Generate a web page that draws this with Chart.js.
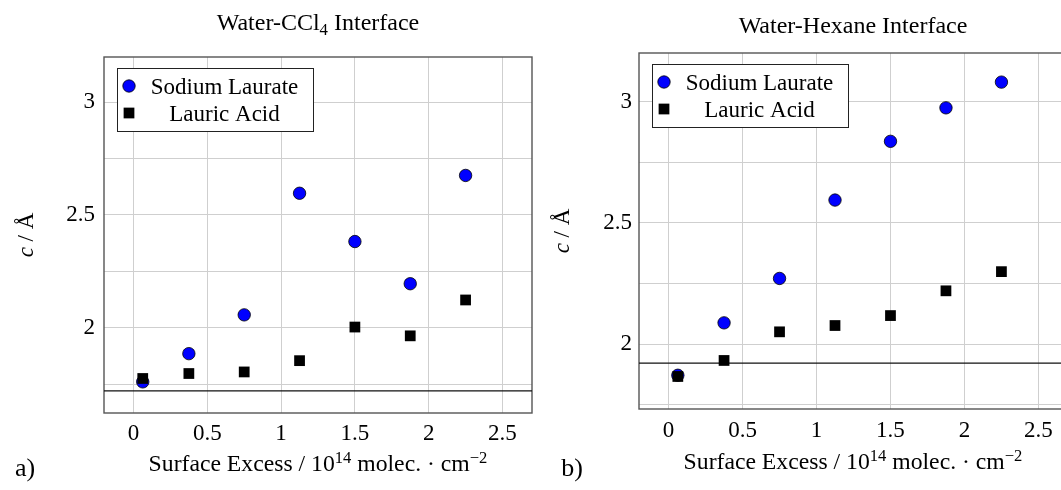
<!DOCTYPE html>
<html>
<head>
<meta charset="utf-8">
<script src="https://cdn.jsdelivr.net/npm/chart.js@4.4.1/dist/chart.umd.min.js"></script>
<style>
  body { margin: 0; width: 1061px; height: 490px; overflow: hidden; background: #fff; position: relative;
         font-family: "Liberation Serif", "Times New Roman", serif; color: #000; }
  canvas { position: absolute; top: 0; }
  #left { left: 0; }
  #right { left: 540px; }
  .lbl { position: absolute; white-space: nowrap; transform: translate(-50%, -50%); font-size: 23px; line-height: 1; }
  .ttl { font-size: 24px; }
  .xt { font-size: 23.7px; }
  .rot { transform: translate(-50%, -50%) rotate(-90deg); }
  .sub { font-size: 0.7em; vertical-align: -0.3em; }
  .sup { font-size: 0.7em; vertical-align: 0.5em; }
  .tag { font-size: 26px; }
</style>
</head>
<body>
<canvas id="left" width="540" height="490"></canvas>
<canvas id="right" width="560" height="490"></canvas>

<div class="lbl ttl" style="left:318px;top:24px">Water-CCl<span class="sub">4</span> Interface</div>
<div class="lbl ttl" style="left:853px;top:25px">Water-Hexane Interface</div>
<div class="lbl xt" style="left:318px;top:463px">Surface Excess / 10<span class="sup">14</span> molec. &middot; cm<span class="sup">&minus;2</span></div>
<div class="lbl xt" style="left:853px;top:461px">Surface Excess / 10<span class="sup">14</span> molec. &middot; cm<span class="sup">&minus;2</span></div>
<div class="lbl rot" style="left:25px;top:235px"><i>c</i> / &Aring;</div>
<div class="lbl rot" style="left:561px;top:231px"><i>c</i> / &Aring;</div>
<div class="lbl tag" style="left:25px;top:468px">a)</div>
<div class="lbl tag" style="left:572px;top:468px">b)</div>

<script>
// surface excess (10^14 molec/cm^2) and c spacing (Angstrom)
const surfaceExcess = [0.0625, 0.375, 0.75, 1.125, 1.5, 1.875, 2.25];
const ccl4Laurate = [1.760, 1.885, 2.057, 2.596, 2.382, 2.195, 2.675];
const ccl4Acid    = [1.775, 1.797, 1.804, 1.854, 2.003, 1.964, 2.123];
const hexLaurate  = [1.872, 2.088, 2.271, 2.594, 2.836, 2.974, 3.080];
const hexAcid     = [1.867, 1.933, 2.051, 2.077, 2.118, 2.220, 2.299];
const ccl4Ref = 1.72;
const hexRef = 1.922;

const xTicks = [0, 0.5, 1, 1.5, 2, 2.5];
const xTickLabels = ['0', '0.5', '1', '1.5', '2', '2.5'];
const yTicks = [1.75, 2, 2.25, 2.5, 2.75, 3];
const yTickLabels = ['', '2', '', '2.5', '', '3'];

const xMin = -0.2, xMax = 2.7, yMax = 3.2;
const FONT = '"Liberation Serif", "Times New Roman", serif';

const framePlugin = {
  id: 'frame',
  beforeDatasetsDraw(chart) {
    const { ctx, chartArea: a } = chart;
    ctx.save();
    ctx.strokeStyle = '#555';
    ctx.lineWidth = 1.4;
    ctx.strokeRect(a.left, a.top, a.right - a.left, a.bottom - a.top);
    ctx.restore();
  }
};

const boxLegend = {
  id: 'boxLegend',
  afterDatasetsDraw(chart) {
    const { ctx, chartArea: a } = chart;
    const x0 = Math.round(a.left + 13), y0 = Math.round(a.top + 11), w = 196, h = 63;
    ctx.save();
    ctx.fillStyle = '#fff';
    ctx.fillRect(x0, y0, w, h);
    ctx.strokeStyle = '#222';
    ctx.lineWidth = 1;
    ctx.strokeRect(x0 + 0.5, y0 + 0.5, w, h);
    ctx.font = '23px ' + FONT;
    ctx.textAlign = 'center';
    ctx.textBaseline = 'alphabetic';
    chart.data.datasets.slice(0, 2).forEach((ds, i) => {
      const cx = x0 + 12, cy = y0 + 18 + i * 27;
      ctx.fillStyle = ds.backgroundColor;
      ctx.strokeStyle = ds.borderColor;
      ctx.lineWidth = ds.borderWidth;
      if (ds.pointStyle === 'circle') {
        ctx.beginPath();
        ctx.arc(cx, cy, ds.pointRadius, 0, Math.PI * 2);
        ctx.fill();
        ctx.stroke();
      } else {
        const s = ds.pointRadius * Math.SQRT1_2;
        ctx.fillRect(cx - s, cy - s, 2 * s, 2 * s);
      }
      ctx.fillStyle = '#000';
      ctx.fillText(ds.label, x0 + 107.5, cy + 7.5);
    });
    ctx.restore();
  }
};

function makeChart(id, laurate, acid, ref, yMin, axisLeft, padRight, padTop, axisBottom, yPad, xPad) {
  const tickFont = { family: FONT, size: 23 };
  return new Chart(document.getElementById(id), {
    type: 'scatter',
    data: {
      datasets: [
        {
          label: 'Sodium Laurate',
          data: surfaceExcess.map((x, i) => ({ x: x, y: laurate[i] })),
          pointStyle: 'circle', pointRadius: 6.2,
          backgroundColor: '#0000ff', borderColor: '#000', borderWidth: 0.8,
          order: 1
        },
        {
          label: 'Lauric Acid',
          data: surfaceExcess.map((x, i) => ({ x: x, y: acid[i] })),
          pointStyle: 'rect', pointRadius: 7.6,
          backgroundColor: '#000', borderColor: '#000', borderWidth: 0,
          order: 0
        },
        {
          label: 'reference',
          data: [{ x: xMin, y: ref }, { x: xMax, y: ref }],
          showLine: true, pointRadius: 0,
          borderColor: '#111', borderWidth: 1.2,
          order: 2
        }
      ]
    },
    options: {
      responsive: false,
      animation: false,
      events: [],
      layout: { padding: { left: 0, right: padRight, top: padTop, bottom: 0 } },
      plugins: { legend: { display: false }, tooltip: { enabled: false } },
      scales: {
        x: {
          type: 'linear', min: xMin, max: xMax,
          afterBuildTicks: s => { s.ticks = xTicks.map(v => ({ value: v })); },
          afterFit: s => { s.height = axisBottom; },
          ticks: { font: tickFont, color: '#000', padding: xPad, maxRotation: 0,
                   callback: v => xTickLabels[xTicks.indexOf(v)] },
          grid: { color: '#cfcfcf', lineWidth: 1, drawTicks: false },
          border: { display: false }
        },
        y: {
          type: 'linear', min: yMin, max: yMax,
          afterBuildTicks: s => { s.ticks = yTicks.map(v => ({ value: v })); },
          afterFit: s => { s.width = axisLeft; },
          ticks: { font: tickFont, color: '#000', padding: yPad,
                   callback: v => yTickLabels[yTicks.indexOf(v)] },
          grid: { color: '#cfcfcf', lineWidth: 1, drawTicks: false },
          border: { display: false }
        }
      }
    },
    plugins: [framePlugin, boxLegend]
  });
}

makeChart('left', ccl4Laurate, ccl4Acid, ccl4Ref, 1.622, 104, 8, 57, 77, 9, 7);
makeChart('right', hexLaurate, hexAcid, hexRef, 1.733, 99, 32, 53, 81, 7, 8);
</script>
</body>
</html>
